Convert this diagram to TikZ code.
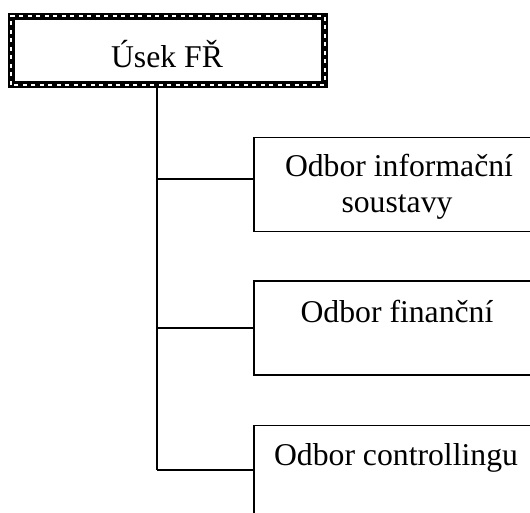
\documentclass[tikz,border=0pt]{standalone}
\usepackage{fontspec}
\setmainfont{Liberation Serif}
\begin{document}
\begin{tikzpicture}[x=1pt,y=-1pt,
  lbl/.style={anchor=base,inner sep=0pt,font=\fontsize{31.7}{36}\selectfont},
  unitbox/.style={draw,line width=1.6pt,minimum width=288.5pt,minimum height=94pt,inner sep=0pt},
  link/.style={line width=1.6pt}]
\useasboundingbox (0,0) rectangle (530,513);
\clip (0,0) rectangle (530,513);

% head box with a patterned frame
\node[minimum width=313pt,minimum height=68pt,inner sep=0pt] (head) at (168,50.5) {};
\draw[line width=7pt] (head.south west) rectangle (head.north east);
\draw[white,line width=1.8pt,dash pattern=on 4pt off 4.5pt] (head.south west) rectangle (head.north east);
\node[lbl] (headtxt) at (167,68) {Úsek FŘ};

% department boxes
\node[unitbox] (b1) at (398,184.5) {};
\node[unitbox] (b2) at (398,328) {};
\node[unitbox] (b3) at (398,472.5) {};
\node[lbl] (t1a) at (399,177) {Odbor informační};
\node[lbl] (t1b) at (397,213) {soustavy};
\node[lbl] (t2) at (397,322) {Odbor finanční};
\node[lbl] (t3) at (396,465) {Odbor controllingu};

% connectors
\coordinate (j1) at (157,179);
\coordinate (j2) at (157,328);
\coordinate (j3) at (157,470);
\draw[link] (head.south -| j1) -- (j3);
\draw[link] (j1) -- (b1.west |- j1);
\draw[link] (j2) -- (b2.west |- j2);
\draw[link] (j3) -- (b3.west |- j3);
\end{tikzpicture}
\end{document}
